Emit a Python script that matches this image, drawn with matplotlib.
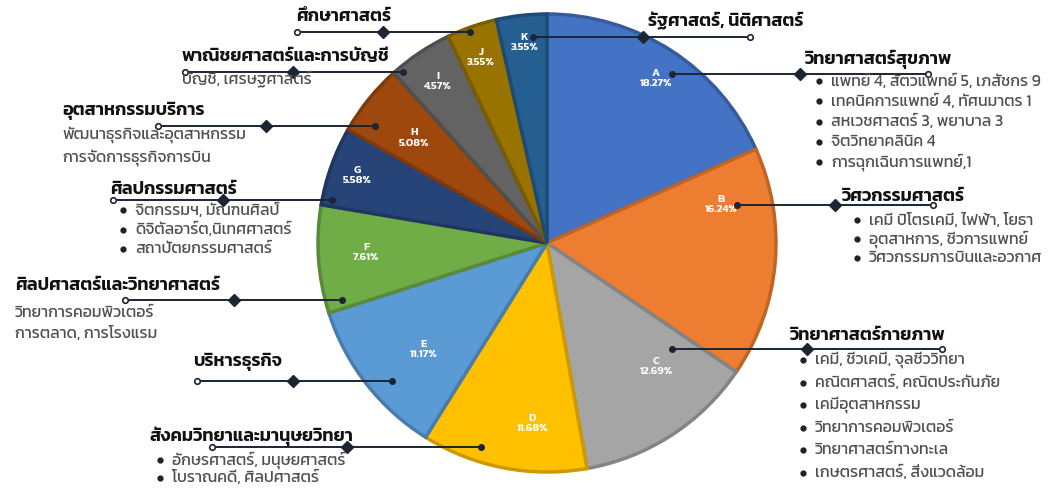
import matplotlib
matplotlib.use("Agg")
import numpy as np
import matplotlib.pyplot as plt
from matplotlib.colors import to_rgb

# ── Data ─────────────────────────────────────────────────────────────────────
codes = ["A", "B", "C", "D", "E", "F", "G", "H", "I", "J", "K"]
shares = [18.27, 16.24, 12.69, 11.68, 11.17, 7.61, 5.58, 5.08, 4.57, 3.55, 3.55]
colors = ["#4472C4", "#ED7D31", "#A5A5A5", "#FFC000", "#5B9BD5", "#70AD47",
          "#264478", "#9E480E", "#636363", "#997300", "#255E91"]

faculties = ["วิทยาศาสตร์สุขภาพ", "วิศวกรรมศาสตร์", "วิทยาศาสตร์กายภาพ",
             "สังคมวิทยาและมานุษยวิทยา", "บริหารธุรกิจ", "ศิลปศาสตร์และวิทยาศาสตร์",
             "ศิลปกรรมศาสตร์", "อุตสาหกรรมบริการ", "พาณิชยศาสตร์และการบัญชี",
             "ศึกษาศาสตร์", "รัฐศาสตร์, นิติศาสตร์"]

details = {
    "A": ["แพทย์ 4, สัตวแพทย์ 5, เภสัชกร 9", "เทคนิคการแพทย์ 4, ทัศนมาตร 1",
          "สหเวชศาสตร์ 3, พยาบาล 3", "จิตวิทยาคลินิค 4", "การฉุกเฉินการแพทย์,1"],
    "B": ["เคมี ปิโตรเคมี, ไฟฟ้า, โยธา", "อุตสาหการ, ชีวการแพทย์",
          "วิศวกรรมการบินและอวกาศ"],
    "C": ["เคมี, ชีวเคมี, จุลชีววิทยา", "คณิตศาสตร์, คณิตประกันภัย", "เคมีอุตสาหกรรม",
          "วิทยาการคอมพิวเตอร์", "วิทยาศาสตร์ทางทะเล", "เกษตรศาสตร์, สิ่งแวดล้อม"],
    "D": ["อักษรศาสตร์, มนุษยศาสตร์", "โบราณคดี, ศิลปศาสตร์"],
    "E": [],
    "F": ["วิทยาการคอมพิวเตอร์", "การตลาด, การโรงแรม"],
    "G": ["จิตกรรมฯ, มัณฑนศิลป์", "ดิจิตัลอาร์ต,นิเทศศาสตร์", "สถาปัตยกรรมศาสตร์"],
    "H": ["พัฒนาธุรกิจและอุตสาหกรรม", "การจัดการธุรกิจการบิน"],
    "I": ["บัญชี, เศรษฐศาสตร์"],
    "J": [],
    "K": [],
}
bulleted = {"A", "B", "C", "D", "G"}

# ── Layout (image pixel coords, y from top) ──────────────────────────────────
W, H = 1063, 491
CX, CY, R = 547, 243, 229
# where each in-slice label sits: radius fraction, position along the arc (0..1)
label_r = [0.86, 0.78, 0.72, 0.79, 0.71, 0.79, 0.88, 0.74, 0.85, 0.86, 0.88]
label_t = [0.49, 0.80, 0.69, 0.65, 0.57, 0.46, 0.50, 0.53, 0.51, 0.53, 0.50]

# leader: y, inner x, diamond x, outer x
leaders = {
    "A": (74, 672, 800, 928), "B": (205, 737, 835, 933), "C": (349, 672, 807, 942),
    "D": (447, 481, 347, 212), "E": (381, 392, 293, 197), "F": (300, 342, 234, 125),
    "G": (200, 332, 223, 113), "H": (126, 375, 266, 158), "I": (72, 403, 293, 185),
    "J": (32, 470, 383, 297), "K": (37, 533, 643, 750),
}
# heading x, heading y, first detail y, detail step, detail x (text)
headings = {
    "A": (805, 59, 81, 20.3, 831), "B": (842, 196, 220, 19.0, 869),
    "C": (790, 335, 360, 22.5, 815), "D": (150, 436, 460, 17.5, 172),
    "E": (193, 362, 0, 0, 0), "F": (15, 286, 313, 20.0, 15),
    "G": (110, 189, 210, 19.5, 135), "H": (62, 111, 135, 23.0, 62),
    "I": (182, 56, 79, 0, 182), "J": (296, 16, 0, 0, 0),
    "K": (648, 21, 0, 0, 0),
}

HEAD_FONT = ["Kanit", "DejaVu Sans"]
BODY_FONT = ["Kanit", "DejaVu Sans"]
LINE_COL = "#1b2533"


def Y(y):
    return H - y


def darker(c, f=0.8):
    r, g, b = to_rgb(c)
    return (r * f, g * f, b * f)


fig = plt.figure(figsize=(W / 100, H / 100), dpi=100)
ax = fig.add_axes([0, 0, 1, 1])

wedges, _ = ax.pie(shares, colors=colors, startangle=90, counterclock=False,
                   center=(CX, Y(CY)), radius=R, frame=True,
                   wedgeprops=dict(linewidth=2.5))
for w, c in zip(wedges, colors):
    w.set_edgecolor(darker(c, 0.8))
ax.set_xlim(0, W)
ax.set_ylim(0, H)
ax.set_aspect("equal")
ax.axis("off")

# inside labels
for w, code, val, rf, t in zip(wedges, codes, shares, label_r, label_t):
    ang = np.deg2rad(w.theta1 + t * (w.theta2 - w.theta1))
    x = CX + R * rf * np.cos(ang)
    y = Y(CY) + R * rf * np.sin(ang)
    ax.text(x, y, f"{code}\n{val:.2f}%", ha="center", va="center", color="white",
            fontsize=8, fontweight="semibold", family=["Kanit", "DejaVu Sans"],
            linespacing=1.15, zorder=5)

# leaders, headings and details
for code, fac in zip(codes, faculties):
    ly, xi, xd, xo = leaders[code]
    ax.plot([xi, xo], [Y(ly), Y(ly)], color=LINE_COL, lw=1.4, zorder=6,
            solid_capstyle="butt")
    ax.plot(xi, Y(ly), "o", ms=4, color=LINE_COL, zorder=7)
    ax.plot(xo, Y(ly), "o", ms=4, mfc="white", mec=LINE_COL, mew=1.2, zorder=7)
    ax.plot(xd, Y(ly), "D", ms=6, color=LINE_COL, zorder=7)

    hx, hy, dy0, step, dx = headings[code]
    ax.text(hx, Y(hy), fac, ha="left", va="center", fontsize=13,
            fontweight="semibold", color="#111111", family=HEAD_FONT, zorder=8)
    for k, line in enumerate(details[code]):
        yy = Y(dy0 + k * step)
        ax.text(dx, yy, line, ha="left", va="center", fontsize=11.5,
                fontweight="normal", color="#505050", family=BODY_FONT, zorder=8)
        if code in bulleted:
            ax.plot(dx - 12, yy, "o", ms=3.5, color="#222222", zorder=8)

fig.savefig("out.png", dpi=100, facecolor="white")
